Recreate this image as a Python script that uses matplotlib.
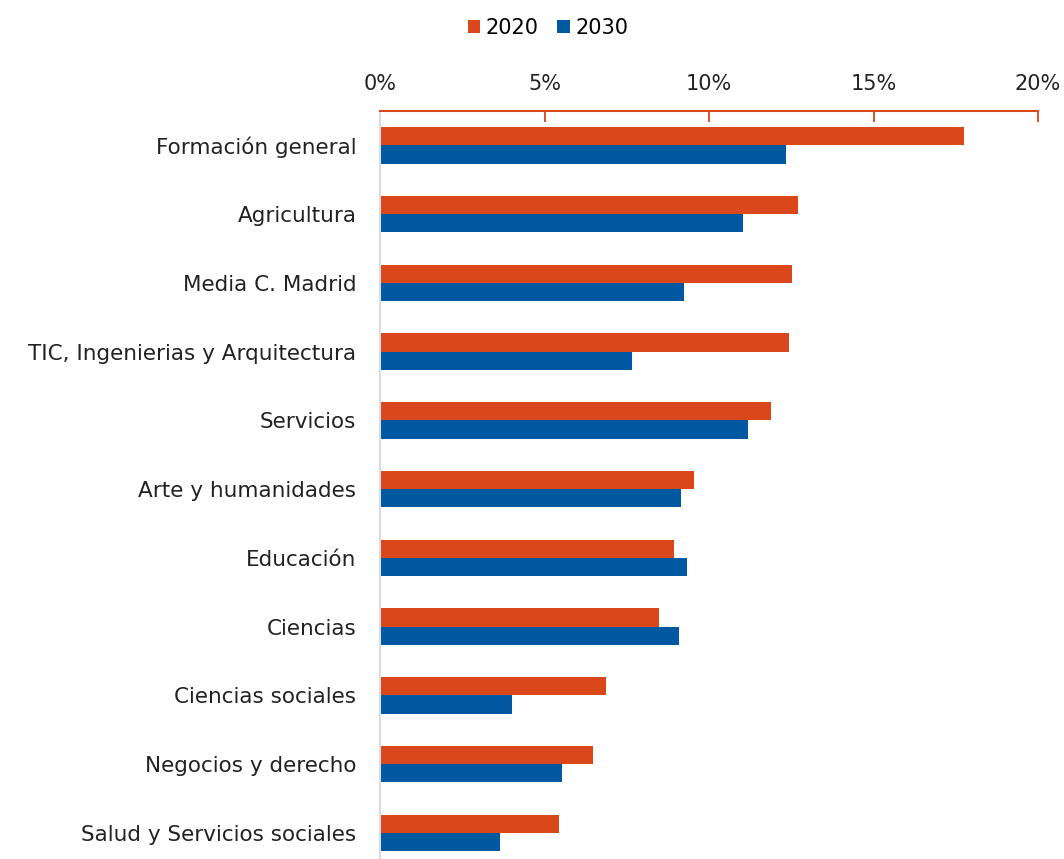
import matplotlib.pyplot as plt
import numpy as np
from matplotlib.ticker import FuncFormatter

plt.rcParams['font.family'] = ['DejaVu Sans']

# Datos (proporcion, %)
categorias = ['Formación general', 'Agricultura', 'Media C. Madrid',
              'TIC, Ingenierias y Arquitectura', 'Servicios', 'Arte y humanidades',
              'Educación', 'Ciencias', 'Ciencias sociales', 'Negocios y derecho',
              'Salud y Servicios sociales']
v2020 = [17.75, 12.70, 12.52, 12.43, 11.88, 9.54, 8.94, 8.48, 6.87, 6.47, 5.44]
v2030 = [12.34, 11.03, 9.24, 7.66, 11.19, 9.15, 9.33, 9.09, 4.01, 5.53, 3.65]

c2020 = '#D9471A'
c2030 = '#0059A0'
ctext = '#222222'

fig = plt.figure(figsize=(10.64, 8.59), dpi=100)
ax = fig.add_axes([380/1064, 0, (1038-380)/1064, (859-111)/859])

y = np.arange(len(categorias))
h = 0.265
ax.barh(y - h/2, v2020, height=h, color=c2020, label='2020')
ax.barh(y + h/2, v2030, height=h, color=c2030, label='2030')

ax.set_xlim(0, 20)
ax.set_ylim(10.38, -0.5)
ax.set_yticks(y)
ax.set_yticklabels(categorias, fontsize=15.5, color=ctext)
ax.tick_params(axis='y', length=0, pad=17)

ax.xaxis.tick_top()
ax.set_xticks([0, 5, 10, 15, 20])
ax.xaxis.set_major_formatter(FuncFormatter(lambda v, p: '%d%%' % v))
ax.tick_params(axis='x', direction='in', length=8, width=1.3, color=c2020,
               labelsize=15, labelcolor=ctext, pad=12)

for s in ['right', 'bottom']:
    ax.spines[s].set_visible(False)
ax.spines['top'].set_color(c2020)
ax.spines['top'].set_linewidth(1.5)
ax.spines['left'].set_color('#d9dde3')
ax.spines['left'].set_linewidth(1.5)

fig.legend(loc='center', bbox_to_anchor=(548/1064, 1 - 28/859), ncol=2, frameon=False,
           fontsize=15, handlelength=0.6, handleheight=0.6, handletextpad=0.25,
           columnspacing=0.9)

fig.savefig('out.png', dpi=100)
